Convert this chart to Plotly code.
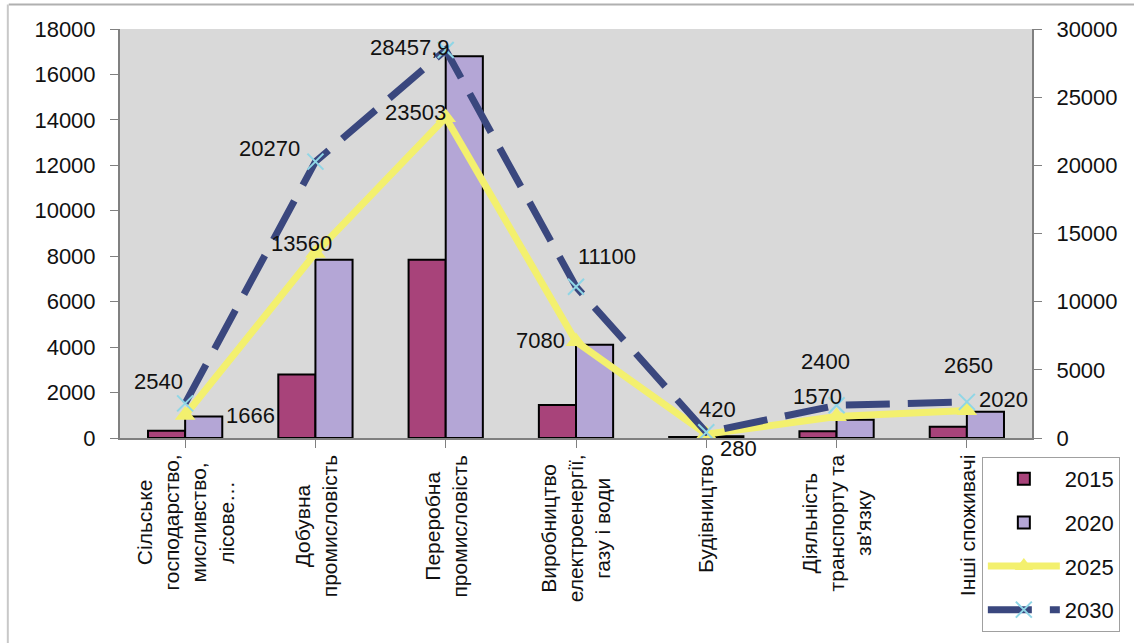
import plotly.graph_objects as go

# Energy consumption by economic sector: actual (2015, 2020) and forecast (2025, 2030)
categories = [
    "Сільське<br>господарство,<br>мисливство,<br>лісове…",
    "Добувна<br>промисловість",
    "Переробна<br>промисловість",
    "Виробництво<br>електроенергії,<br>газу і води",
    "Будівництво",
    "Діяльність<br>транспорту та<br>зв'язку",
    "Інші споживачі",
]
values_2015 = [320, 2800, 7850, 1450, 40, 300, 500]
values_2020 = [950, 7850, 16800, 4100, 80, 800, 1150]
values_2025 = [1666, 13560, 23503, 7080, 280, 1570, 2020]
values_2030 = [2540, 20270, 28457.9, 11100, 420, 2400, 2650]

left_ticks = list(range(0, 18001, 2000))
right_ticks = list(range(0, 30001, 5000))

FONT = "Liberation Sans, Arial, sans-serif"
C2015 = "#a8437a"
C2020 = "#b4a6d6"
C2025 = "#f3f06e"
C2030 = "#3a477e"
CX = "#8fd6e6"
TXT = "#111111"

x_idx = list(range(len(categories)))


def fmt(v):
    if float(v).is_integer():
        return str(int(v))
    return f"{v}".replace(".", ",")


fig = go.Figure()
fig.add_trace(go.Bar(
    x=x_idx, y=values_2015, name="2015", legendgroup="a",
    marker=dict(color=C2015, line=dict(color="#000000", width=2)),
))
fig.add_trace(go.Bar(
    x=x_idx, y=values_2020, name="2020", legendgroup="b",
    marker=dict(color=C2020, line=dict(color="#000000", width=2)),
))
fig.add_trace(go.Scatter(
    x=x_idx, y=values_2025, name="2025", yaxis="y2", legendgroup="c",
    mode="lines+markers",
    line=dict(color=C2025, width=7),
    marker=dict(symbol="triangle-up", size=18, color=C2025),
))
fig.add_trace(go.Scatter(
    x=x_idx, y=values_2030, name="2030", yaxis="y2", legendgroup="d",
    mode="lines+markers",
    line=dict(color=C2030, width=7, dash="44px,18px"),
    marker=dict(symbol="x-thin", size=16, color=CX, line=dict(color=CX, width=2)),
))

# label offsets (pixels) relative to each marker
off_2025 = [(65, 0), (-14, 10), (-30, 5), (-36, 1), (32, -14), (-19, 20), (37, 11)]
off_2030 = [(-27, 22), (-46, 13), (-36, 3), (31, 30), (11, 23), (-11, 44), (2, 36)]

annotations = []
for vals, offs in ((values_2025, off_2025), (values_2030, off_2030)):
    for i, (v, (dx, dy)) in enumerate(zip(vals, offs)):
        annotations.append(dict(
            x=i, y=v, xref="x", yref="y2", text=fmt(v), showarrow=False,
            xshift=dx, yshift=dy, font=dict(family=FONT, size=22, color=TXT),
        ))

# rotated category captions under the axis
for i, cat in enumerate(categories):
    annotations.append(dict(
        x=i, y=-0.035, xref="x", yref="paper", text=cat, showarrow=False,
        textangle=-90, xanchor="center", yanchor="top", align="center",
        font=dict(family=FONT, size=21, color=TXT),
    ))

axis_common = dict(
    ticks="outside", ticklen=8, tickcolor="#808080",
    showline=True, linecolor="#808080", linewidth=2,
    showgrid=False, zeroline=False,
)

fig.update_layout(
    width=1134, height=643,
    margin=dict(l=120, r=102, t=29, b=204),
    paper_bgcolor="#ffffff",
    plot_bgcolor="#d9d9d9",
    barmode="group", bargap=0.43, bargroupgap=0,
    font=dict(family=FONT, size=22, color=TXT),
    xaxis=dict(
        range=[-0.5, len(categories) - 0.5],
        tickvals=x_idx, showticklabels=False, tickson="boundaries",
        **axis_common,
    ),
    yaxis=dict(
        range=[0, 18000], tickvals=left_ticks,
        ticktext=[str(v) for v in left_ticks], ticklabelstandoff=10,
        tickfont=dict(family=FONT, size=22, color=TXT),
        **axis_common,
    ),
    yaxis2=dict(
        range=[0, 30000], tickvals=right_ticks,
        ticktext=[str(v) for v in right_ticks],
        overlaying="y", side="right", ticklabelstandoff=10,
        tickfont=dict(family=FONT, size=22, color=TXT),
        **axis_common,
    ),
    legend=dict(
        x=0.945, y=-0.044, xanchor="left", yanchor="top",
        bgcolor="#ffffff", bordercolor="#a0a0a0", borderwidth=1,
        font=dict(family=FONT, size=22, color=TXT),
        tracegroupgap=12, itemwidth=72,
    ),
    annotations=annotations,
    shapes=[
        dict(type="line", xref="paper", yref="paper", x0=-0.122, x1=1.12,
             y0=1.06, y1=1.06, line=dict(color="#b0b0b0", width=2)),
        dict(type="line", xref="paper", yref="paper", x0=-0.123, x1=-0.123,
             y0=1.06, y1=-0.6, line=dict(color="#c8c8c8", width=2)),
    ],
)

fig.write_html("out.html")
